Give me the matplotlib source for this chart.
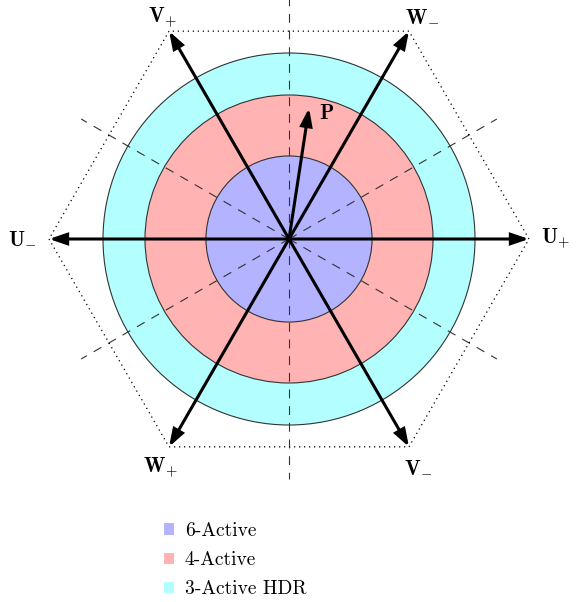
import numpy as np
import matplotlib
matplotlib.use("Agg")
from matplotlib import pyplot as plt
from matplotlib.patches import Circle, Polygon, FancyArrowPatch, Patch

plt.rcParams["font.family"] = "cmr10"
plt.rcParams["mathtext.fontset"] = "cm"
plt.rcParams["axes.formatter.use_mathtext"] = True

# switching vectors (angle in degrees, normalised magnitude)
vec_names = [r"$\mathbf{U}_{+}$", r"$\mathbf{W}_{-}$", r"$\mathbf{V}_{+}$",
             r"$\mathbf{U}_{-}$", r"$\mathbf{W}_{+}$", r"$\mathbf{V}_{-}$"]
vec_angles = [0, 60, 120, 180, 240, 300]
vec_mag = 1.0

# reference vector P
p_angle = 81.3
p_mag = 0.552

# sector boundaries (dashed)
sector_angles = [30, 90, 150, 210, 270, 330]

# operating regions, drawn from outside in
region_names = ["3-Active HDR", "4-Active", "6-Active"]
region_radii = [0.775, 0.6, 0.346]
region_colors = ["#b3ffff", "#ffb3b3", "#b3b3ff"]

fig = plt.figure(figsize=(5.84, 6.02), dpi=100)
ax = fig.add_axes([0, 0, 1, 1])
sc = 240.0
ax.set_xlim(-289 / sc, (584 - 289) / sc)
ax.set_ylim(-(602 - 239) / sc, 239 / sc)
ax.set_aspect("equal")
ax.axis("off")

for r, c in zip(region_radii, region_colors):
    ax.add_patch(Circle((0, 0), r, facecolor=c, edgecolor="#333333", lw=0.8, zorder=1))

for a in sector_angles:
    t = np.radians(a)
    ax.plot([0, np.cos(t)], [0, np.sin(t)], color="#333333", lw=0.8,
            dashes=(8, 7), zorder=2)

th = np.radians(vec_angles)
hexagon = np.column_stack([vec_mag * np.cos(th), vec_mag * np.sin(th)])
ax.add_patch(Polygon(hexagon, closed=True, fill=False, edgecolor="black",
                     lw=0.9, linestyle=(0, (1, 3)), zorder=2))

def arrow(x, y):
    ax.add_patch(FancyArrowPatch((0, 0), (x, y),
                                 arrowstyle="-|>,head_length=0.5,head_width=0.17",
                                 mutation_scale=20, lw=2.2, color="black",
                                 shrinkA=0, shrinkB=0, joinstyle="miter", zorder=3))

label_off = {0: (12, 0, "left"), 60: (13, 14, "center"), 120: (-6, 14, "center"),
             180: (-12, 0, "right"), 240: (-8, -21, "center"), 300: (9, -21, "center")}
for name, a in zip(vec_names, vec_angles):
    t = np.radians(a)
    x, y = vec_mag * np.cos(t), vec_mag * np.sin(t)
    arrow(x, y)
    dx, dy, ha = label_off[a]
    ax.annotate(name, (x, y), xytext=(dx * 0.72, dy * 0.72), textcoords="offset points",
                ha=ha, va="center", fontsize=15)

tp = np.radians(p_angle)
px, py = p_mag * np.cos(tp), p_mag * np.sin(tp)
arrow(px, py)
ax.annotate(r"$\mathbf{P}$", (px, py), xytext=(7, -4), textcoords="offset points",
            ha="left", va="center", fontsize=15)

handles = [Patch(facecolor=c, edgecolor="none", label=n)
           for n, c in zip(region_names[::-1], region_colors[::-1])]
ax.legend(handles=handles, loc="upper left", bbox_to_anchor=(164 / 584, 1 - 522 / 602),
          frameon=False, fontsize=14, handlelength=0.52, handleheight=0.52,
          handletextpad=0.55, labelspacing=0.58, borderpad=0, borderaxespad=0)

fig.savefig("out.png", dpi=100)
